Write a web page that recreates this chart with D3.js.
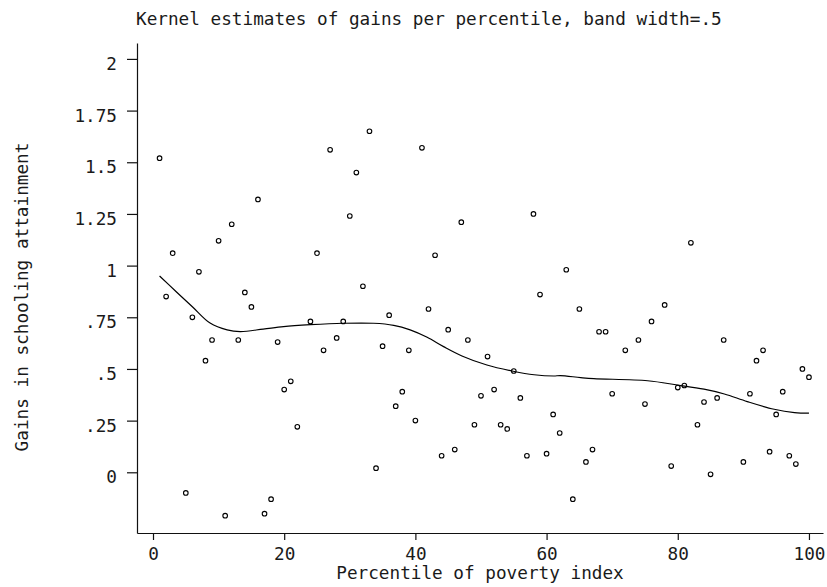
<!DOCTYPE html>
<html>
<head>
<meta charset="utf-8">
<script src="https://cdn.jsdelivr.net/npm/d3@7"></script>
<style>
    body { margin: 0; background: #fff; }
    svg { display: block; }
    text { font-family: "DejaVu Sans Mono", "Liberation Mono", monospace; font-size: 17.7px; fill: #1a1a1a; }
</style>
</head>
<body>
<svg width="827" height="587"></svg>
<script>
// percentile of poverty index and observed gain per percentile
const percentiles = [1, 2, 3, 5, 6, 7, 8, 9, 10, 11, 12, 13, 14, 15, 16, 17, 18, 19, 20, 21, 22,
    24, 25, 26, 27, 28, 29, 30, 31, 32, 33, 34, 35, 36, 37, 38, 39, 40, 41, 42, 43, 44, 45, 46, 47,
    48, 49, 50, 51, 52, 53, 54, 55, 56, 57, 58, 59, 60, 61, 62, 63, 64, 65, 66, 67, 68, 69, 70,
    72, 74, 75, 76, 78, 79, 80, 81, 82, 83, 84, 85, 86, 87, 90, 91, 92, 93, 94, 95, 96, 97, 98, 99, 100];
const gains = [1.52, 0.85, 1.06, -0.10, 0.75, 0.97, 0.54, 0.64, 1.12, -0.21, 1.20, 0.64, 0.87, 0.80, 1.32, -0.20, -0.13, 0.63, 0.40, 0.44, 0.22,
    0.73, 1.06, 0.59, 1.56, 0.65, 0.73, 1.24, 1.45, 0.90, 1.65, 0.02, 0.61, 0.76, 0.32, 0.39, 0.59, 0.25, 1.57, 0.79, 1.05, 0.08, 0.69, 0.11, 1.21,
    0.64, 0.23, 0.37, 0.56, 0.40, 0.23, 0.21, 0.49, 0.36, 0.08, 1.25, 0.86, 0.09, 0.28, 0.19, 0.98, -0.13, 0.79, 0.05, 0.11, 0.68, 0.68, 0.38,
    0.59, 0.64, 0.33, 0.73, 0.81, 0.03, 0.41, 0.42, 1.11, 0.23, 0.34, -0.01, 0.36, 0.64, 0.05, 0.38, 0.54, 0.59, 0.10, 0.28, 0.39, 0.08, 0.04, 0.50, 0.46];

// kernel estimate
const kernelX = [1, 3.5, 6, 8.7, 11.3, 13.3, 16.8, 19.9, 24, 29, 33.6, 36.7, 39.2, 41.8, 44.3, 47.1, 50.9,
    54.9, 58.1, 61.1, 62.1, 65.2, 67.2, 75.4, 80, 84, 87.1, 90.6, 94.7, 97.8, 100];
const kernelY = [0.950, 0.875, 0.801, 0.722, 0.689, 0.681, 0.693, 0.705, 0.714, 0.721, 0.721, 0.711, 0.689, 0.653, 0.608, 0.563, 0.519,
    0.489, 0.472, 0.466, 0.468, 0.458, 0.453, 0.443, 0.422, 0.402, 0.379, 0.342, 0.305, 0.289, 0.286];

const xTicks = [0, 20, 40, 60, 80, 100];
const yTicks = [0, 0.25, 0.5, 0.75, 1, 1.25, 1.5, 1.75, 2];

const titleText = "Kernel estimates of gains per percentile, band width=.5";
const xLabel = "Percentile of poverty index";
const yLabel = "Gains in schooling attainment";

function drawGraph() {
    let svg = d3.select("svg");

    // plot frame: axis lines run from (137,533) to the right/top
    let scX = d3.scaleLinear().domain([-2.44, 102.14]).range([137, 823]);
    let scY = d3.scaleLinear().domain([-0.2937, 2.077]).range([533, 43]);

    createAxis(svg, scX, scY);

    // points
    let pts = percentiles.map((p, i) => ({x: p, y: gains[i]}));
    svg.append("g")
        .selectAll("circle")
        .data(pts)
        .enter()
        .append("circle")
        .attr("cx", d => scX(d.x))
        .attr("cy", d => scY(d.y))
        .attr("r", 2.3)
        .attr("fill", "#fff")
        .attr("stroke", "#000")
        .attr("stroke-width", 1.1);

    // smoothed line
    let kern = kernelX.map((k, i) => ({x: k, y: kernelY[i]}));
    let line = d3.line()
        .x(d => scX(d.x))
        .y(d => scY(d.y))
        .curve(d3.curveCatmullRom.alpha(0.5));
    svg.append("path")
        .datum(kern)
        .attr("fill", "none")
        .attr("stroke", "#000")
        .attr("stroke-width", 1.2)
        .attr("d", line);

    // texts
    svg.append("text")
        .attr("x", 136)
        .attr("y", 25)
        .text(titleText);

    svg.append("text")
        .attr("x", 480)
        .attr("y", 579)
        .attr("text-anchor", "middle")
        .text(xLabel);

    svg.append("text")
        .attr("transform", "translate(28, 297) rotate(-90)")
        .attr("text-anchor", "middle")
        .text(yLabel);
}

function createAxis(svg, scX, scY) {
    let axisX = d3.axisBottom(scX)
        .tickValues(xTicks)
        .tickSizeInner(7)
        .tickSizeOuter(0)
        .tickPadding(7.5)
        .tickFormat(d3.format("d"));

    let axisY = d3.axisLeft(scY)
        .tickValues(yTicks)
        .tickSizeInner(10)
        .tickSizeOuter(0)
        .tickPadding(10)
        .tickFormat(d => d3.format("")(d).replace(/^0\./, "."));

    let gx = svg.append("g")
        .attr("transform", "translate(0, 533)")
        .call(axisX);
    let gy = svg.append("g")
        .attr("transform", "translate(137, 0)")
        .call(axisY);

    [gx, gy].forEach(g => {
        g.selectAll("text").attr("font-family", null).attr("font-size", null).attr("fill", null);
        g.selectAll("line, path").attr("stroke", "#111").attr("stroke-width", 1.2);
        g.attr("font-family", null).attr("font-size", null);
    });
    gy.selectAll("text").attr("dy", "0.6em");
}

drawGraph();
</script>
</body>
</html>
